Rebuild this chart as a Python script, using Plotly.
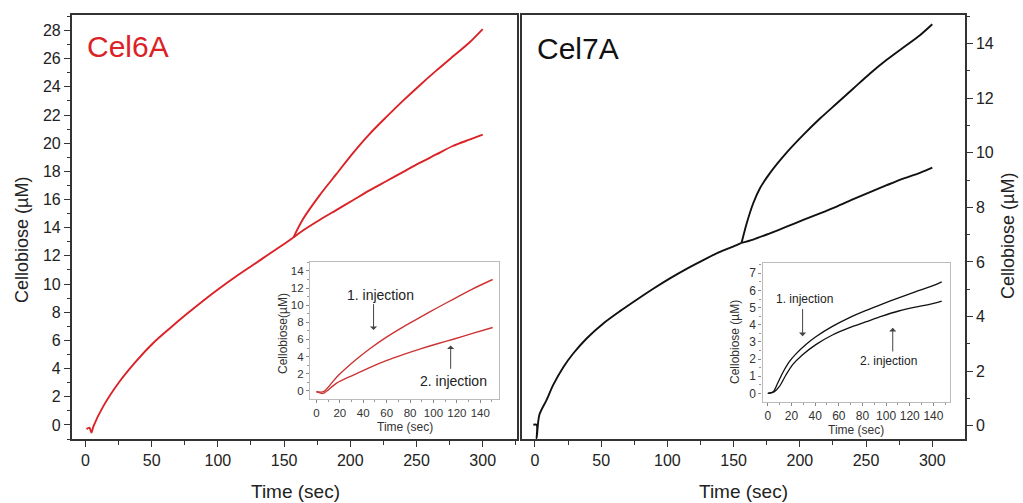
import plotly.graph_objects as go

W, H = 1023, 503

# ---------------- data ----------------
# Cel6A main panel: common trace up to branch point, then two branches
cel6a_common_t = [0.8, 3.0, 4.5, 6.0, 13.3, 25.9, 38.5, 51.0, 63.6, 76.2, 88.7, 101.3, 113.9, 126.5, 139.0, 151.7, 157.0]
cel6a_common_y = [-0.3, -0.2, -0.55, -0.1, 1.3, 3.1, 4.55, 5.8, 6.85, 7.85, 8.8, 9.7, 10.55, 11.35, 12.15, 12.95, 13.3]
cel6a_up_t = [157.0, 164.2, 176.8, 189.4, 202.0, 214.5, 227.1, 239.7, 252.3, 264.9, 277.4, 290.0, 300.0]
cel6a_up_y = [13.3, 14.6, 16.3, 17.8, 19.3, 20.65, 21.85, 23.0, 24.1, 25.15, 26.15, 27.15, 28.1]
cel6a_low_t = [157.0, 164.2, 176.8, 189.4, 202.0, 214.5, 227.1, 239.7, 252.3, 264.9, 277.4, 290.0, 300.0]
cel6a_low_y = [13.3, 13.8, 14.55, 15.25, 15.95, 16.65, 17.3, 17.95, 18.6, 19.2, 19.8, 20.25, 20.6]

# Cel6A inset
in6_t1 = [0, 6.0, 17.2, 31.6, 45.9, 60.2, 74.6, 88.9, 103.3, 117.6, 132.0, 150.6]
in6_y1 = [-0.1, -0.1, 1.6, 3.4, 4.95, 6.3, 7.5, 8.6, 9.7, 10.75, 11.8, 13.0]
in6_t2 = [0, 5.7, 17.2, 31.6, 45.9, 60.2, 74.6, 88.9, 103.3, 117.6, 132.0, 150.6]
in6_y2 = [-0.1, -0.3, 0.9, 1.85, 2.75, 3.55, 4.25, 4.9, 5.5, 6.05, 6.65, 7.4]

# Cel7A main panel
cel7a_common_t = [-1.2, 1.3, 1.3, 3.3, 8.8, 13.8, 21.4, 28.9, 39.0, 51.6, 64.2, 76.8, 89.3, 101.9, 114.5, 127.1, 139.7, 152.3, 156.0]
cel7a_common_y = [0.04, 0.04, -0.45, 0.4, 0.95, 1.5, 2.15, 2.65, 3.2, 3.75, 4.2, 4.62, 5.02, 5.4, 5.75, 6.07, 6.37, 6.62, 6.7]
cel7a_up_t = [156.0, 159.8, 164.8, 169.9, 177.4, 190.0, 202.6, 215.2, 227.8, 240.4, 253.0, 265.6, 278.1, 290.7, 300.0]
cel7a_up_y = [6.7, 7.4, 8.15, 8.7, 9.25, 10.0, 10.65, 11.25, 11.8, 12.35, 12.9, 13.4, 13.85, 14.3, 14.7]
cel7a_low_t = [156.0, 164.8, 177.4, 190.0, 202.6, 215.2, 227.8, 240.4, 253.0, 265.6, 278.1, 290.7, 300.0]
cel7a_low_y = [6.7, 6.82, 7.05, 7.29, 7.54, 7.78, 8.03, 8.3, 8.56, 8.81, 9.05, 9.26, 9.45]

# Cel7A inset
in7_t1 = [0, 4.2, 8.4, 12.6, 18.2, 23.8, 32.2, 40.6, 54.6, 68.6, 82.6, 96.6, 110.6, 124.6, 138.6, 147.0]
in7_y1 = [0, 0.06, 0.6, 1.2, 1.85, 2.3, 2.85, 3.3, 3.9, 4.4, 4.82, 5.2, 5.57, 5.92, 6.25, 6.5]
in7_t2 = [0, 5.6, 9.8, 15.4, 21.0, 29.4, 40.6, 54.6, 68.6, 82.6, 96.6, 110.6, 124.6, 138.6, 147.0]
in7_y2 = [0, 0.1, 0.4, 1.08, 1.67, 2.25, 2.84, 3.4, 3.82, 4.16, 4.5, 4.8, 5.03, 5.22, 5.38]

main_xticks = [0, 50, 100, 150, 200, 250, 300]
inset_xticks = [0, 20, 40, 60, 80, 100, 120, 140]

RED = "#db2226"
IRED = "#cc3333"
BLK = "#111111"
FONT = "Liberation Sans, Arial, sans-serif"


def px(x):
    return x / W


def py(y):
    return 1 - y / H


fig = go.Figure()


def line(t, y, xa, ya, color, width):
    fig.add_trace(go.Scatter(x=t, y=y, xaxis=xa, yaxis=ya, mode="lines",
                             line=dict(color=color, width=width, shape="spline", smoothing=0.8),
                             hoverinfo="skip", showlegend=False))


line(cel6a_common_t, cel6a_common_y, "x", "y", RED, 1.9)
line(cel6a_up_t, cel6a_up_y, "x", "y", RED, 1.9)
line(cel6a_low_t, cel6a_low_y, "x", "y", RED, 1.9)
line(in6_t1, in6_y1, "x3", "y3", IRED, 1.4)
line(in6_t2, in6_y2, "x3", "y3", IRED, 1.4)
line(cel7a_common_t, cel7a_common_y, "x2", "y2", BLK, 1.9)
line(cel7a_up_t, cel7a_up_y, "x2", "y2", BLK, 1.9)
line(cel7a_low_t, cel7a_low_y, "x2", "y2", BLK, 1.9)
line(in7_t1, in7_y1, "x4", "y4", BLK, 1.3)
line(in7_t2, in7_y2, "x4", "y4", BLK, 1.3)

main_ax = dict(showline=True, mirror=True, linecolor="#333333", linewidth=1.5,
               showgrid=False, zeroline=False, ticks="outside", ticklen=6, tickwidth=1.2,
               tickcolor="#333333", tickfont=dict(family=FONT, size=16, color="#222222"))
inset_ax = dict(showline=True, mirror=True, linecolor="#bbbbbb", linewidth=1.2,
                showgrid=False, zeroline=False, ticks="outside", ticklen=3, tickwidth=1,
                tickcolor="#888888", tickfont=dict(family=FONT, size=12, color="#333333"))

fig.update_layout(
    width=W, height=H, autosize=False,
    margin=dict(l=0, r=0, t=0, b=0),
    paper_bgcolor="white", plot_bgcolor="white",
    showlegend=False,
    xaxis=dict(main_ax, domain=[px(71.7), px(517)], range=[-10.4, 325.9], anchor="y",
               tickvals=main_xticks,
               minor=dict(dtick=25, tick0=0, ticks="outside", ticklen=4, tickcolor="#333333")),
    yaxis=dict(main_ax, domain=[py(439), py(15)], range=[-1.0, 29.1], anchor="x",
               dtick=2, tick0=0,
               minor=dict(dtick=1, tick0=0, ticks="outside", ticklen=3, tickcolor="#333333")),
    xaxis2=dict(main_ax, domain=[px(521.7), px(965)], range=[-10.0, 324.7], anchor="y2",
                tickvals=main_xticks,
                minor=dict(dtick=25, tick0=0, ticks="outside", ticklen=4, tickcolor="#333333")),
    yaxis2=dict(main_ax, domain=[py(439), py(15)], range=[-0.48, 15.04], anchor="x2",
                side="right", dtick=2, tick0=0,
                minor=dict(dtick=1, tick0=0, ticks="outside", ticklen=3, tickcolor="#333333")),
    xaxis3=dict(inset_ax, domain=[px(310), px(499)], range=[-5.5, 156], anchor="y3",
                tickvals=inset_xticks, tickfont=dict(family=FONT, size=11.5, color="#333333"),
                minor=dict(dtick=10, tick0=0, ticks="outside", ticklen=2, tickcolor="#999999")),
    yaxis3=dict(inset_ax, domain=[py(399), py(261.5)], range=[-0.95, 15.1], anchor="x3",
                dtick=2, tick0=0, tickfont=dict(family=FONT, size=11.5, color="#333333"),
                minor=dict(dtick=1, tick0=0, ticks="outside", ticklen=2, tickcolor="#999999")),
    xaxis4=dict(inset_ax, domain=[px(762.5), px(950)], range=[-4.5, 154], anchor="y4",
                tickvals=inset_xticks,
                minor=dict(dtick=10, tick0=0, ticks="outside", ticklen=2, tickcolor="#999999")),
    yaxis4=dict(inset_ax, domain=[py(401.7), py(263)], range=[-0.49, 7.6], anchor="x4",
                dtick=1, tick0=0,
                minor=dict(dtick=0.5, tick0=0, ticks="outside", ticklen=2, tickcolor="#999999")),
)

ann = []


def text(x, y, s, size, color="#222222", angle=0, xanchor="center"):
    ann.append(dict(x=px(x), y=py(y), xref="paper", yref="paper", text=s, showarrow=False,
                    textangle=angle, xanchor=xanchor, yanchor="middle",
                    font=dict(family=FONT, size=size, color=color)))


# main titles
text(295, 491, "Time (sec)", 19)
text(743, 491, "Time (sec)", 19)
text(22, 240, "Cellobiose (µM)", 18, angle=-90)
text(1008, 236, "Cellobiose (µM)", 18, angle=-90)
text(85, 47, "Cel6A", 30, color=RED, xanchor="left")
text(535, 48, "Cel7A", 30, color=BLK, xanchor="left")
# inset titles
text(405, 427, "Time (sec)", 12, color="#333333")
text(283, 334, "Cellobiose(µM)", 12, color="#333333", angle=-90)
text(856, 430, "Time (sec)", 12, color="#333333")
text(735, 342, "Cellobiose (µM)", 12, color="#333333", angle=-90)


def inset_text(xa, ya, x, y, s, size):
    ann.append(dict(x=x, y=y, xref=xa, yref=ya, text=s, showarrow=False,
                    font=dict(family=FONT, size=size, color="#222222")))


def arrow(xa, ya, x, y0, y1):
    ann.append(dict(x=x, y=y1, ax=x, ay=y0, xref=xa, yref=ya, axref=xa, ayref=ya,
                    text="", showarrow=True, arrowhead=1, arrowsize=1.2, arrowwidth=1,
                    arrowcolor="#444444"))


inset_text("x3", "y3", 54.5, 11.2, "1. injection", 14)
arrow("x3", "y3", 48.8, 10.3, 7.1)
inset_text("x3", "y3", 117, 1.1, "2. injection", 14)
arrow("x3", "y3", 114.7, 2.4, 5.3)

inset_text("x4", "y4", 30.8, 5.49, "1. injection", 12)
arrow("x4", "y4", 29.4, 5.0, 3.33)
inset_text("x4", "y4", 102.2, 1.86, "2. injection", 12)
arrow("x4", "y4", 105.6, 2.35, 3.82)

fig.update_layout(annotations=ann)

fig.write_html("out.html")
